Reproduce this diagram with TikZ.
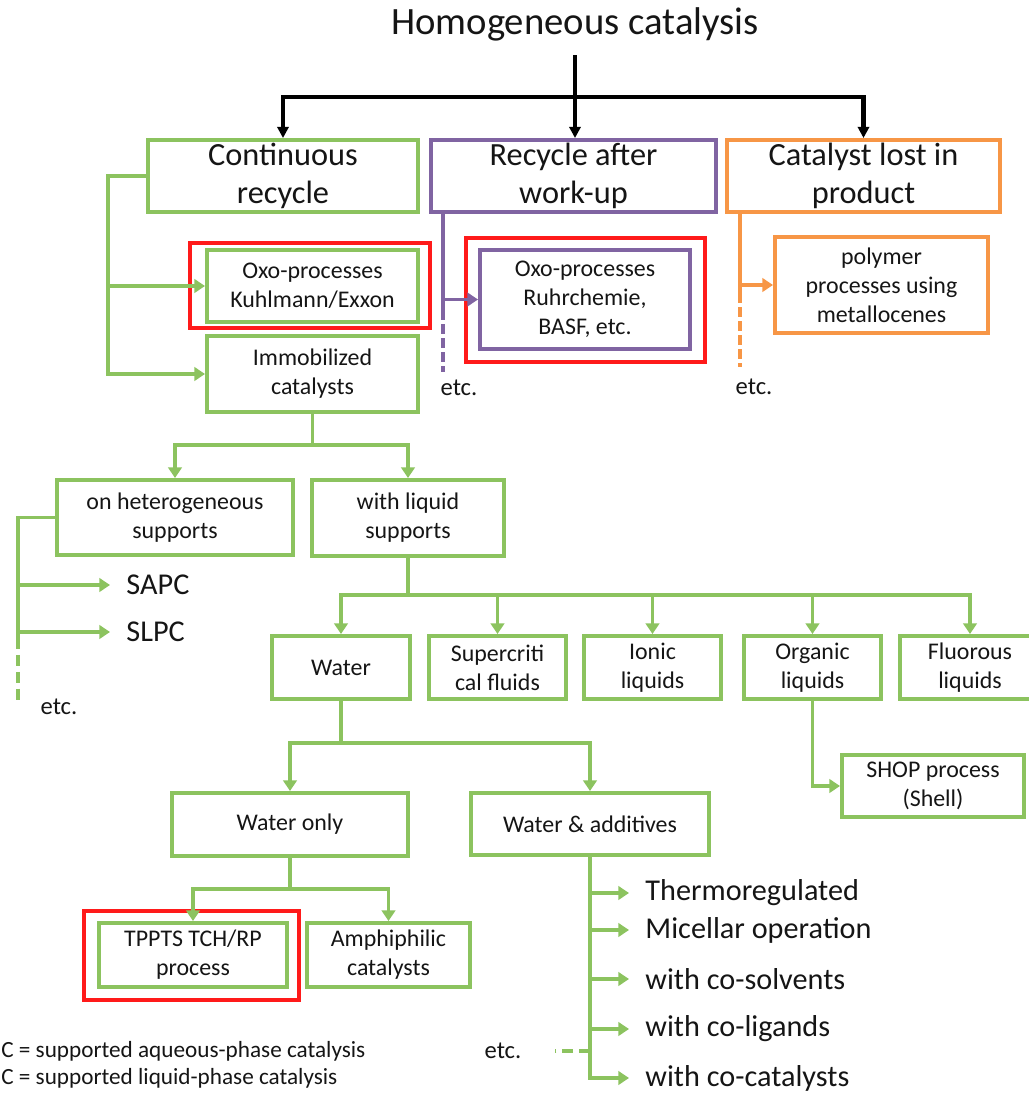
\documentclass[tikz,border=0pt]{standalone}
\usepackage{fontspec}
\setmainfont{Carlito}
\usepackage{tikz}
\usetikzlibrary{arrows.meta,calc}
\definecolor{hcgreen}{HTML}{8CC35F}
\definecolor{hcpurple}{HTML}{8064A2}
\definecolor{hcorange}{HTML}{F79646}
\definecolor{hcred}{HTML}{FF1A1A}
\definecolor{hcink}{HTML}{151515}
\newcommand{\szTitle}{\fontsize{27.5}{33}\selectfont}
\newcommand{\szHead}{\fontsize{23}{27}\selectfont}
\newcommand{\szBox}{\fontsize{17}{20.7}\selectfont}
\newcommand{\szList}{\fontsize{21.5}{25}\selectfont}
\newcommand{\szEtc}{\fontsize{17.5}{21}\selectfont}
\newcommand{\szNote}{\fontsize{16.5}{20}\selectfont}
\tikzset{
  gbox/.style={draw=hcgreen,line width=2.8pt,fill=white,align=center,inner sep=2pt,
               font=\szBox,text=hcink},
  pbox/.style={gbox,draw=hcpurple},
  obox/.style={gbox,draw=hcorange},
  headbox/.style={font=\szHead},
  gline/.style={draw=hcgreen,line width=2.8pt},
  garr/.style={gline,-{Triangle[width=9.5pt,length=7.5pt]}},
  gdash/.style={gline,dash pattern=on 8pt off 4pt},
  pline/.style={draw=hcpurple,line width=2.6pt},
  parr/.style={pline,-{Triangle[width=9.5pt,length=7.5pt]}},
  pdash/.style={pline,dash pattern=on 7pt off 3pt},
  oline/.style={draw=hcorange,line width=2.6pt},
  oarr/.style={oline,-{Triangle[width=9.5pt,length=7.5pt]}},
  odash/.style={oline,dash pattern=on 7pt off 3pt},
  blk/.style={draw=black,line width=3pt},
  redframe/.style={draw=hcred,line width=3pt},
  etctxt/.style={font=\szEtc,text=hcink,inner sep=0pt},
  listtxt/.style={font=\szList,text=hcink,anchor=west,inner xsep=11.5pt,inner ysep=0pt},
  notetxt/.style={font=\szNote,text=hcink,anchor=west,inner sep=0pt},
}

\begin{document}
\begin{tikzpicture}[x=0.025cm,y=-0.025cm]
  \useasboundingbox (0,0) rectangle (1028,1093);

  % ---- top level ----
  \node[font=\szTitle,text=hcink,anchor=south,inner sep=10pt] (homog) at (575,55) {Homogeneous catalysis};
  \node[gbox,headbox,minimum width=6.75cm,minimum height=1.8cm] (cont) at (283,176) {Continuous\\recycle};
  \node[pbox,headbox,minimum width=7.125cm,minimum height=1.8cm] (recyc) at (573.5,176) {Recycle after\\work-up};
  \node[obox,headbox,minimum width=6.825cm,minimum height=1.8cm] (prod) at (863.5,176) {Catalyst lost in\\product};
  \coordinate (bar) at (575,97);
  \draw[blk,-{Triangle[width=8pt,length=8pt]}] (homog.south) -- (homog.south |- recyc.north);
  \draw[blk,{Triangle[width=8pt,length=8pt]}-{Triangle[width=8pt,length=8pt]}]
    (cont.north) |- (bar) -| (prod.north);

  % ---- continuous recycle ----
  \node[gbox,minimum width=5.275cm,minimum height=1.8cm] (oxok) at (312.5,286) {Oxo-processes\\Kuhlmann/Exxon};
  \node[gbox,minimum width=5.275cm,minimum height=1.9cm] (immob) at (312.5,374) {Immobilized\\catalysts};
  \draw[redframe] (190,243) rectangle (430,328);
  \coordinate (lsp) at (108,176);
  \draw[garr] (cont.west) -- (lsp) |- (immob.west);
  \draw[garr] (lsp |- oxok.west) -- (oxok.west);

  % ---- recycle after work-up ----
  \node[pbox,minimum width=5.25cm,minimum height=2.475cm] (oxor) at (585,299.5) {Oxo-processes\\Ruhrchemie,\\BASF, etc.};
  \draw[redframe] (466,238) rectangle (705,362);
  \coordinate (psp) at (443,310);
  \coordinate (pend) at (443,372);
  \draw[pline] (recyc.south -| psp) -- (psp);
  \draw[pdash] (psp) -- (pend);
  \draw[parr] (psp |- oxor.west) -- (oxor.west);
  \node[etctxt] (etcp) at (459,388) {etc.};

  % ---- catalyst lost in product ----
  \node[obox,minimum width=5.325cm,minimum height=2.4cm] (poly) at (881.5,285) {polymer\\processes using\\metallocenes};
  \coordinate (osp) at (740,293);
  \coordinate (oend) at (740,367);
  \draw[oline] (prod.south -| osp) -- (osp);
  \draw[odash] (osp) -- (oend);
  \draw[oarr] (osp |- poly.west) -- (poly.west);
  \node[etctxt] (etco) at (754,387) {etc.};

  % ---- immobilized catalysts ----
  \node[gbox,minimum width=5.9cm,minimum height=1.875cm] (hetero) at (175,517.5) {on heterogeneous\\supports};
  \node[gbox,minimum width=4.8cm,minimum height=1.9cm] (liquid) at (408,518) {with liquid\\supports};
  \coordinate (ib) at (312.5,445);
  \draw[gline] (immob.south) -- (ib);
  \draw[garr] (ib) -| (hetero.north);
  \draw[garr] (ib) -| (liquid.north);

  % ---- heterogeneous supports ----
  \node[listtxt] (sapc) at (110,585) {SAPC};
  \node[listtxt] (slpc) at (110,632) {SLPC};
  \coordinate (hsp) at (18,638);
  \draw[gline] (hetero.west) -| (hsp);
  \draw[garr] (hsp |- sapc.west) -- (sapc.west);
  \draw[garr] (hsp |- slpc.west) -- (slpc.west);
  \draw[gdash] (hsp) -- (18,703);
  \node[etctxt] (etch) at (59,707) {etc.};

  % ---- liquid supports ----
  \node[gbox,minimum width=3.45cm,minimum height=1.575cm] (water) at (341,667.5) {Water};
  \node[gbox,minimum width=3.425cm,minimum height=1.575cm] (scf) at (497.5,667.5) {Supercriti\\cal fluids};
  \node[gbox,minimum width=3.425cm,minimum height=1.575cm] (ionic) at (652.5,667.5) {Ionic\\liquids};
  \node[gbox,minimum width=3.425cm,minimum height=1.575cm] (organic) at (812.5,667.5) {Organic\\liquids};
  \node[gbox,minimum width=3.5cm,minimum height=1.575cm] (fluor) at (970,667.5) {Fluorous\\liquids};
  \coordinate (lb) at (408,595);
  \draw[gline] (liquid.south) -- (lb);
  \draw[garr] (lb) -| (water.north);
  \draw[garr] (lb) -| (fluor.north);
  \draw[garr] (scf.north |- lb) -- (scf.north);
  \draw[garr] (ionic.north |- lb) -- (ionic.north);
  \draw[garr] (organic.north |- lb) -- (organic.north);

  \node[gbox,minimum width=4.55cm,minimum height=1.55cm] (shop) at (933,786) {SHOP process\\(Shell)};
  \draw[garr] (organic.south) |- (shop.west);

  % ---- water ----
  \node[gbox,minimum width=5.9cm,minimum height=1.575cm] (wonly) at (290,824.5) {Water only};
  \node[gbox,minimum width=5.95cm,minimum height=1.55cm] (wadd) at (590,824) {Water \& additives};
  \coordinate (wb) at (341,743);
  \draw[gline] (water.south) -- (wb);
  \draw[garr] (wb) -| (wonly.north);
  \draw[garr] (wb) -| (wadd.north);

  \node[gbox,minimum width=4.7cm,minimum height=1.6cm] (tppts) at (193,955) {TPPTS TCH/RP\\process};
  \node[gbox,minimum width=4.075cm,minimum height=1.6cm] (amph) at (388.5,955) {Amphiphilic\\catalysts};
  \draw[redframe] (84,911) rectangle (299,1000);
  \coordinate (ob) at (290,889);
  \draw[gline] (wonly.south) -- (ob);
  \draw[garr] (ob) -| (tppts.north);
  \draw[garr] (ob) -| (amph.north);

  % ---- water & additives ----
  \node[listtxt] (thermo) at (629,893) {Thermoregulated};
  \node[listtxt] (micel) at (629,930) {Micellar operation};
  \node[listtxt] (cosolv) at (629,979) {with co-solvents};
  \node[listtxt] (colig) at (629,1029) {with co-ligands};
  \node[listtxt] (cocat) at (629,1078) {with co-catalysts};
  \draw[garr] (wadd.south) |- (cocat.west);
  \foreach \n in {thermo,micel,cosolv,colig}{
    \draw[garr] (wadd.south |- \n.west) -- (\n.west);}
  \node[etctxt] (etcw) at (503,1051) {etc.};
  \coordinate (etcd) at (555,1051);
  \draw[gdash] (wadd.south |- etcd) -- (etcd);

  % ---- notes ----
  \node[notetxt] (note1) at (1,1051) {C = supported aqueous-phase catalysis};
  \node[notetxt] (note2) at (1,1078) {C = supported liquid-phase catalysis};
\end{tikzpicture}
\end{document}
